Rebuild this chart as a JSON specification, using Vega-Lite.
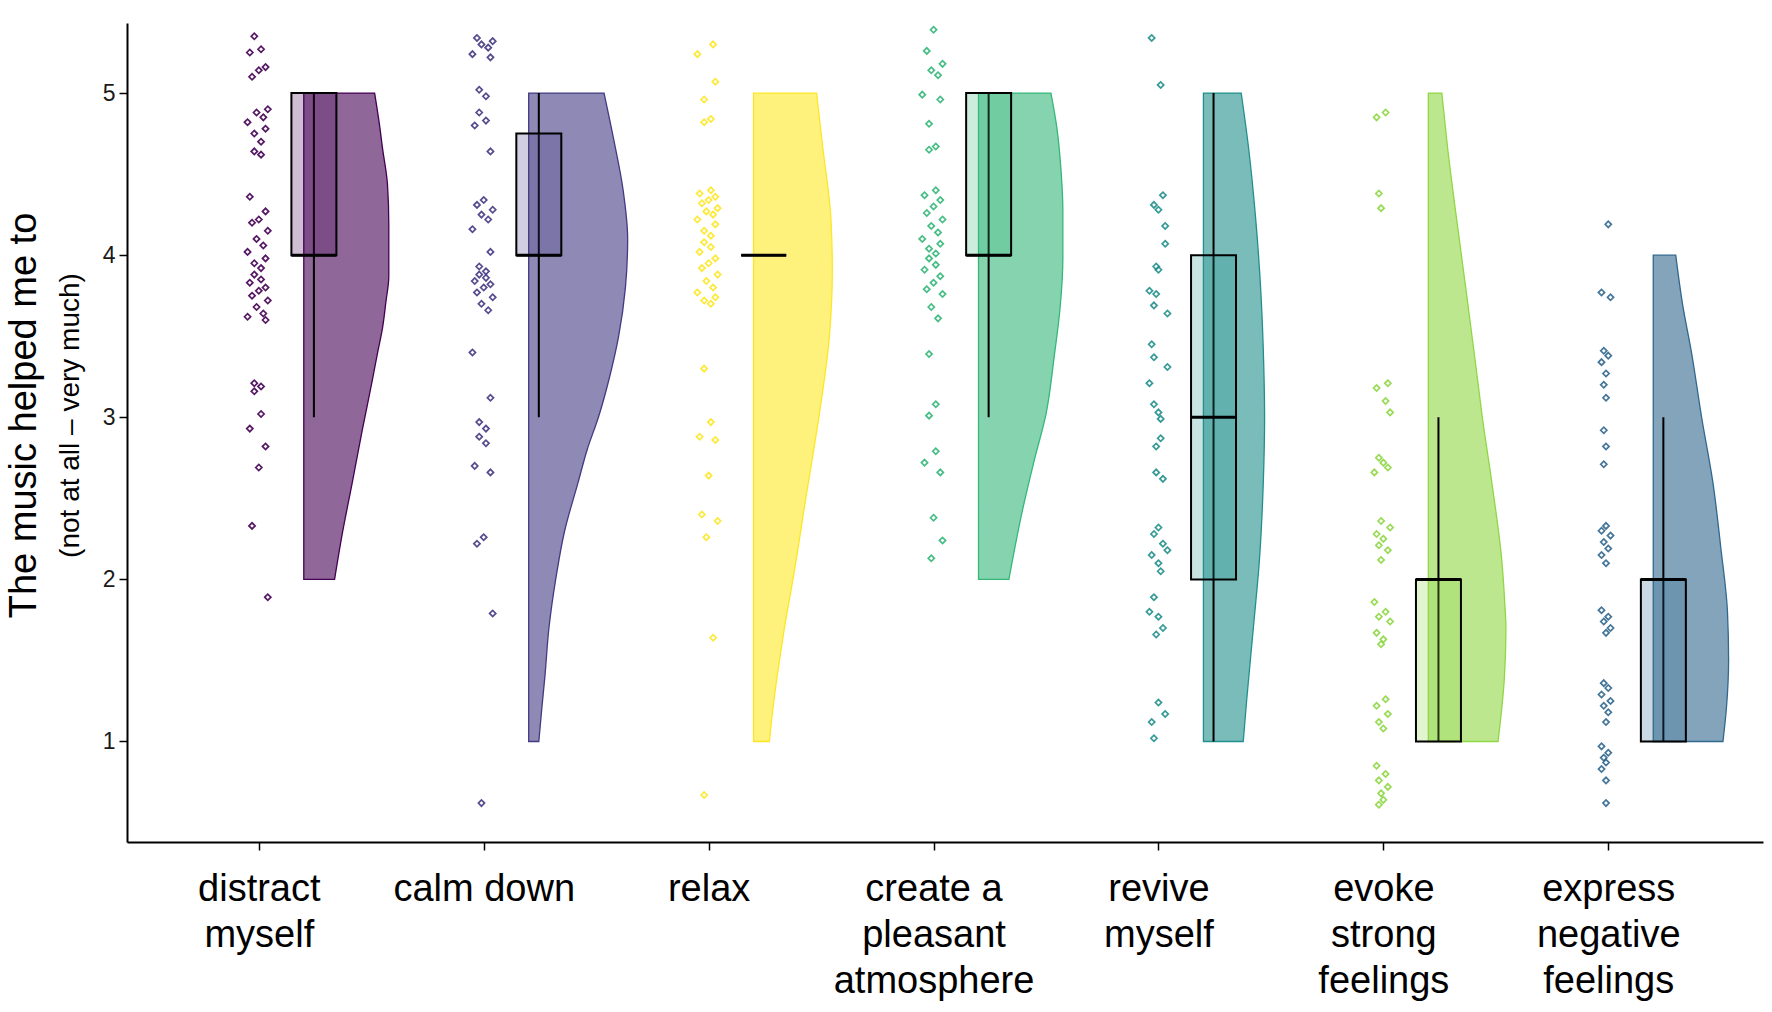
{
  "$schema": "https://vega.github.io/schema/vega-lite/v6.json",
  "width": 1636,
  "height": 819,
  "autosize": {"type": "none"},
  "padding": {"left": 127, "top": 23, "right": 9, "bottom": 170},
  "background": "white",
  "config": {"view": {"stroke": null}, "font": "Liberation Sans"},
  "title": {"text": "The music helped me to", "orient": "left", "anchor": "middle", "frame": "group", "fontSize": 38, "font": "Liberation Sans", "fontWeight": "normal", "color": "black", "offset": 12, "dx": 17},
  "datasets": {
    "violins": [
      {"task":"distract myself","y":2,"w":0.137},{"task":"distract myself","y":2.28,"w":0.171},{"task":"distract myself","y":2.6,"w":0.216},{"task":"distract myself","y":2.92,"w":0.26},{"task":"distract myself","y":3.23,"w":0.305},{"task":"distract myself","y":3.39,"w":0.327},{"task":"distract myself","y":3.55,"w":0.35},{"task":"distract myself","y":3.71,"w":0.365},{"task":"distract myself","y":3.87,"w":0.378},{"task":"distract myself","y":4.19,"w":0.378},{"task":"distract myself","y":4.44,"w":0.372},{"task":"distract myself","y":4.66,"w":0.35},{"task":"distract myself","y":4.82,"w":0.335},{"task":"distract myself","y":5,"w":0.315},
      {"task":"calm down","y":1,"w":0.045},{"task":"calm down","y":1.2,"w":0.058},{"task":"calm down","y":1.4,"w":0.072},{"task":"calm down","y":1.7,"w":0.09},{"task":"calm down","y":2.0,"w":0.12},{"task":"calm down","y":2.3,"w":0.16},{"task":"calm down","y":2.6,"w":0.22},{"task":"calm down","y":2.8,"w":0.26},{"task":"calm down","y":3.0,"w":0.31},{"task":"calm down","y":3.25,"w":0.36},{"task":"calm down","y":3.5,"w":0.40},{"task":"calm down","y":3.8,"w":0.43},{"task":"calm down","y":4.1,"w":0.44},{"task":"calm down","y":4.4,"w":0.42},{"task":"calm down","y":4.7,"w":0.38},{"task":"calm down","y":5,"w":0.335},
      {"task":"relax","y":1,"w":0.07},{"task":"relax","y":1.25,"w":0.09},{"task":"relax","y":1.5,"w":0.115},{"task":"relax","y":1.75,"w":0.143},{"task":"relax","y":2.0,"w":0.175},{"task":"relax","y":2.5,"w":0.232},{"task":"relax","y":3.0,"w":0.29},{"task":"relax","y":3.5,"w":0.337},{"task":"relax","y":3.9,"w":0.35},{"task":"relax","y":4.22,"w":0.344},{"task":"relax","y":4.67,"w":0.307},{"task":"relax","y":5,"w":0.28},
      {"task":"create a pleasant atmosphere","y":2,"w":0.135},{"task":"create a pleasant atmosphere","y":2.43,"w":0.196},{"task":"create a pleasant atmosphere","y":2.73,"w":0.247},{"task":"create a pleasant atmosphere","y":3.02,"w":0.30},{"task":"create a pleasant atmosphere","y":3.38,"w":0.337},{"task":"create a pleasant atmosphere","y":3.68,"w":0.363},{"task":"create a pleasant atmosphere","y":3.98,"w":0.375},{"task":"create a pleasant atmosphere","y":4.28,"w":0.375},{"task":"create a pleasant atmosphere","y":4.52,"w":0.367},{"task":"create a pleasant atmosphere","y":4.79,"w":0.348},{"task":"create a pleasant atmosphere","y":5,"w":0.322},
      {"task":"revive myself","y":1,"w":0.177},{"task":"revive myself","y":1.25,"w":0.192},{"task":"revive myself","y":1.7,"w":0.222},{"task":"revive myself","y":2.14,"w":0.25},{"task":"revive myself","y":2.59,"w":0.266},{"task":"revive myself","y":3.0,"w":0.272},{"task":"revive myself","y":3.33,"w":0.268},{"task":"revive myself","y":3.78,"w":0.255},{"task":"revive myself","y":4.23,"w":0.232},{"task":"revive myself","y":4.67,"w":0.2},{"task":"revive myself","y":5,"w":0.168},
      {"task":"evoke strong feelings","y":1,"w":0.31},{"task":"evoke strong feelings","y":1.39,"w":0.338},{"task":"evoke strong feelings","y":1.7,"w":0.345},{"task":"evoke strong feelings","y":1.85,"w":0.34},{"task":"evoke strong feelings","y":2.14,"w":0.325},{"task":"evoke strong feelings","y":2.59,"w":0.283},{"task":"evoke strong feelings","y":3.0,"w":0.24},{"task":"evoke strong feelings","y":3.33,"w":0.21},{"task":"evoke strong feelings","y":3.78,"w":0.168},{"task":"evoke strong feelings","y":4.23,"w":0.125},{"task":"evoke strong feelings","y":4.67,"w":0.085},{"task":"evoke strong feelings","y":5,"w":0.06},
      {"task":"express negative feelings","y":1,"w":0.31},{"task":"express negative feelings","y":1.2,"w":0.325},{"task":"express negative feelings","y":1.5,"w":0.335},{"task":"express negative feelings","y":1.8,"w":0.33},{"task":"express negative feelings","y":2.2,"w":0.30},{"task":"express negative feelings","y":2.6,"w":0.265},{"task":"express negative feelings","y":3.0,"w":0.215},{"task":"express negative feelings","y":3.4,"w":0.17},{"task":"express negative feelings","y":3.7,"w":0.13},{"task":"express negative feelings","y":4,"w":0.10}
    ],
    "boxes": [
      {"task":"distract myself","lower":3,"q1":4,"median":4,"q3":5,"upper":5},
      {"task":"calm down","lower":3,"q1":4,"median":4,"q3":4.75,"upper":5},
      {"task":"relax","lower":4,"q1":4,"median":4,"q3":4,"upper":4},
      {"task":"create a pleasant atmosphere","lower":3,"q1":4,"median":4,"q3":5,"upper":5},
      {"task":"revive myself","lower":1,"q1":2,"median":3,"q3":4,"upper":5},
      {"task":"evoke strong feelings","lower":1,"q1":1,"median":2,"q3":2,"upper":3},
      {"task":"express negative feelings","lower":1,"q1":1,"median":2,"q3":2,"upper":3}
    ],
    "points": [
      {"task":"distract myself","value":5.35,"jitter":-0.02},{"task":"distract myself","value":5.27,"jitter":0.01},{"task":"distract myself","value":5.25,"jitter":-0.04},{"task":"distract myself","value":5.16,"jitter":0.03},{"task":"distract myself","value":5.14,"jitter":0.0},{"task":"distract myself","value":5.10,"jitter":-0.03},{"task":"distract myself","value":4.90,"jitter":0.04},{"task":"distract myself","value":4.88,"jitter":-0.01},{"task":"distract myself","value":4.85,"jitter":0.02},{"task":"distract myself","value":4.82,"jitter":-0.05},{"task":"distract myself","value":4.78,"jitter":0.03},{"task":"distract myself","value":4.75,"jitter":-0.02},{"task":"distract myself","value":4.70,"jitter":0.01},{"task":"distract myself","value":4.64,"jitter":-0.02},{"task":"distract myself","value":4.62,"jitter":0.01},{"task":"distract myself","value":4.36,"jitter":-0.04},{"task":"distract myself","value":4.27,"jitter":0.03},{"task":"distract myself","value":4.22,"jitter":0.0},{"task":"distract myself","value":4.20,"jitter":-0.03},{"task":"distract myself","value":4.15,"jitter":0.04},{"task":"distract myself","value":4.10,"jitter":-0.01},{"task":"distract myself","value":4.06,"jitter":0.02},{"task":"distract myself","value":4.02,"jitter":-0.05},{"task":"distract myself","value":3.98,"jitter":0.03},{"task":"distract myself","value":3.95,"jitter":-0.02},{"task":"distract myself","value":3.92,"jitter":0.01},{"task":"distract myself","value":3.88,"jitter":-0.02},{"task":"distract myself","value":3.85,"jitter":0.01},{"task":"distract myself","value":3.83,"jitter":-0.04},{"task":"distract myself","value":3.80,"jitter":0.03},{"task":"distract myself","value":3.78,"jitter":0.0},{"task":"distract myself","value":3.75,"jitter":-0.03},{"task":"distract myself","value":3.72,"jitter":0.04},{"task":"distract myself","value":3.68,"jitter":-0.01},{"task":"distract myself","value":3.64,"jitter":0.02},{"task":"distract myself","value":3.62,"jitter":-0.05},{"task":"distract myself","value":3.60,"jitter":0.03},{"task":"distract myself","value":3.21,"jitter":-0.02},{"task":"distract myself","value":3.19,"jitter":0.01},{"task":"distract myself","value":3.16,"jitter":-0.02},{"task":"distract myself","value":3.02,"jitter":0.01},{"task":"distract myself","value":2.93,"jitter":-0.04},{"task":"distract myself","value":2.82,"jitter":0.03},{"task":"distract myself","value":2.69,"jitter":0.0},{"task":"distract myself","value":2.33,"jitter":-0.03},{"task":"distract myself","value":1.89,"jitter":0.04},
      {"task":"calm down","value":5.34,"jitter":-0.03},{"task":"calm down","value":5.32,"jitter":0.04},{"task":"calm down","value":5.30,"jitter":-0.01},{"task":"calm down","value":5.28,"jitter":0.02},{"task":"calm down","value":5.24,"jitter":-0.05},{"task":"calm down","value":5.22,"jitter":0.03},{"task":"calm down","value":5.02,"jitter":-0.02},{"task":"calm down","value":4.98,"jitter":0.01},{"task":"calm down","value":4.88,"jitter":-0.02},{"task":"calm down","value":4.83,"jitter":0.01},{"task":"calm down","value":4.80,"jitter":-0.04},{"task":"calm down","value":4.64,"jitter":0.03},{"task":"calm down","value":4.34,"jitter":0.0},{"task":"calm down","value":4.31,"jitter":-0.03},{"task":"calm down","value":4.28,"jitter":0.04},{"task":"calm down","value":4.25,"jitter":-0.01},{"task":"calm down","value":4.22,"jitter":0.02},{"task":"calm down","value":4.16,"jitter":-0.05},{"task":"calm down","value":4.02,"jitter":0.03},{"task":"calm down","value":3.93,"jitter":-0.02},{"task":"calm down","value":3.90,"jitter":0.01},{"task":"calm down","value":3.88,"jitter":-0.02},{"task":"calm down","value":3.86,"jitter":0.01},{"task":"calm down","value":3.84,"jitter":-0.04},{"task":"calm down","value":3.82,"jitter":0.03},{"task":"calm down","value":3.80,"jitter":0.0},{"task":"calm down","value":3.77,"jitter":-0.03},{"task":"calm down","value":3.74,"jitter":0.04},{"task":"calm down","value":3.70,"jitter":-0.01},{"task":"calm down","value":3.66,"jitter":0.02},{"task":"calm down","value":3.40,"jitter":-0.05},{"task":"calm down","value":3.12,"jitter":0.03},{"task":"calm down","value":2.97,"jitter":-0.02},{"task":"calm down","value":2.93,"jitter":0.01},{"task":"calm down","value":2.88,"jitter":-0.02},{"task":"calm down","value":2.84,"jitter":0.01},{"task":"calm down","value":2.70,"jitter":-0.04},{"task":"calm down","value":2.66,"jitter":0.03},{"task":"calm down","value":2.26,"jitter":0.0},{"task":"calm down","value":2.22,"jitter":-0.03},{"task":"calm down","value":1.79,"jitter":0.04},{"task":"calm down","value":0.62,"jitter":-0.01},
      {"task":"relax","value":5.30,"jitter":0.02},{"task":"relax","value":5.24,"jitter":-0.05},{"task":"relax","value":5.07,"jitter":0.03},{"task":"relax","value":4.96,"jitter":-0.02},{"task":"relax","value":4.84,"jitter":0.01},{"task":"relax","value":4.82,"jitter":-0.02},{"task":"relax","value":4.40,"jitter":0.01},{"task":"relax","value":4.38,"jitter":-0.04},{"task":"relax","value":4.36,"jitter":0.03},{"task":"relax","value":4.34,"jitter":0.0},{"task":"relax","value":4.32,"jitter":-0.03},{"task":"relax","value":4.29,"jitter":0.04},{"task":"relax","value":4.27,"jitter":-0.01},{"task":"relax","value":4.25,"jitter":0.02},{"task":"relax","value":4.22,"jitter":-0.05},{"task":"relax","value":4.19,"jitter":0.03},{"task":"relax","value":4.15,"jitter":-0.02},{"task":"relax","value":4.12,"jitter":0.01},{"task":"relax","value":4.08,"jitter":-0.02},{"task":"relax","value":4.05,"jitter":0.01},{"task":"relax","value":4.02,"jitter":-0.04},{"task":"relax","value":3.98,"jitter":0.03},{"task":"relax","value":3.95,"jitter":0.0},{"task":"relax","value":3.92,"jitter":-0.03},{"task":"relax","value":3.88,"jitter":0.04},{"task":"relax","value":3.84,"jitter":-0.01},{"task":"relax","value":3.80,"jitter":0.02},{"task":"relax","value":3.77,"jitter":-0.05},{"task":"relax","value":3.74,"jitter":0.03},{"task":"relax","value":3.72,"jitter":-0.02},{"task":"relax","value":3.70,"jitter":0.01},{"task":"relax","value":3.30,"jitter":-0.02},{"task":"relax","value":2.97,"jitter":0.01},{"task":"relax","value":2.88,"jitter":-0.04},{"task":"relax","value":2.86,"jitter":0.03},{"task":"relax","value":2.64,"jitter":0.0},{"task":"relax","value":2.40,"jitter":-0.03},{"task":"relax","value":2.36,"jitter":0.04},{"task":"relax","value":2.26,"jitter":-0.01},{"task":"relax","value":1.64,"jitter":0.02},{"task":"relax","value":0.67,"jitter":-0.02},
      {"task":"create a pleasant atmosphere","value":5.39,"jitter":0.0},{"task":"create a pleasant atmosphere","value":5.26,"jitter":-0.03},{"task":"create a pleasant atmosphere","value":5.18,"jitter":0.04},{"task":"create a pleasant atmosphere","value":5.14,"jitter":-0.01},{"task":"create a pleasant atmosphere","value":5.11,"jitter":0.02},{"task":"create a pleasant atmosphere","value":4.99,"jitter":-0.05},{"task":"create a pleasant atmosphere","value":4.96,"jitter":0.03},{"task":"create a pleasant atmosphere","value":4.81,"jitter":-0.02},{"task":"create a pleasant atmosphere","value":4.67,"jitter":0.01},{"task":"create a pleasant atmosphere","value":4.65,"jitter":-0.02},{"task":"create a pleasant atmosphere","value":4.40,"jitter":0.01},{"task":"create a pleasant atmosphere","value":4.37,"jitter":-0.04},{"task":"create a pleasant atmosphere","value":4.34,"jitter":0.03},{"task":"create a pleasant atmosphere","value":4.30,"jitter":0.0},{"task":"create a pleasant atmosphere","value":4.26,"jitter":-0.03},{"task":"create a pleasant atmosphere","value":4.22,"jitter":0.04},{"task":"create a pleasant atmosphere","value":4.18,"jitter":-0.01},{"task":"create a pleasant atmosphere","value":4.14,"jitter":0.02},{"task":"create a pleasant atmosphere","value":4.10,"jitter":-0.05},{"task":"create a pleasant atmosphere","value":4.07,"jitter":0.03},{"task":"create a pleasant atmosphere","value":4.04,"jitter":-0.02},{"task":"create a pleasant atmosphere","value":4.01,"jitter":0.01},{"task":"create a pleasant atmosphere","value":3.98,"jitter":-0.02},{"task":"create a pleasant atmosphere","value":3.94,"jitter":0.01},{"task":"create a pleasant atmosphere","value":3.91,"jitter":-0.04},{"task":"create a pleasant atmosphere","value":3.87,"jitter":0.03},{"task":"create a pleasant atmosphere","value":3.83,"jitter":0.0},{"task":"create a pleasant atmosphere","value":3.79,"jitter":-0.03},{"task":"create a pleasant atmosphere","value":3.76,"jitter":0.04},{"task":"create a pleasant atmosphere","value":3.68,"jitter":-0.01},{"task":"create a pleasant atmosphere","value":3.61,"jitter":0.02},{"task":"create a pleasant atmosphere","value":3.39,"jitter":-0.02},{"task":"create a pleasant atmosphere","value":3.08,"jitter":0.01},{"task":"create a pleasant atmosphere","value":3.01,"jitter":-0.02},{"task":"create a pleasant atmosphere","value":2.79,"jitter":0.01},{"task":"create a pleasant atmosphere","value":2.72,"jitter":-0.04},{"task":"create a pleasant atmosphere","value":2.66,"jitter":0.03},{"task":"create a pleasant atmosphere","value":2.38,"jitter":0.0},{"task":"create a pleasant atmosphere","value":2.24,"jitter":0.04},{"task":"create a pleasant atmosphere","value":2.13,"jitter":-0.01},
      {"task":"revive myself","value":5.34,"jitter":-0.03},{"task":"revive myself","value":5.05,"jitter":0.01},{"task":"revive myself","value":4.37,"jitter":0.02},{"task":"revive myself","value":4.31,"jitter":-0.02},{"task":"revive myself","value":4.28,"jitter":0.0},{"task":"revive myself","value":4.18,"jitter":0.03},{"task":"revive myself","value":4.07,"jitter":0.03},{"task":"revive myself","value":3.93,"jitter":-0.01},{"task":"revive myself","value":3.91,"jitter":0.0},{"task":"revive myself","value":3.78,"jitter":-0.04},{"task":"revive myself","value":3.76,"jitter":-0.01},{"task":"revive myself","value":3.69,"jitter":-0.02},{"task":"revive myself","value":3.64,"jitter":0.04},{"task":"revive myself","value":3.45,"jitter":-0.03},{"task":"revive myself","value":3.37,"jitter":-0.02},{"task":"revive myself","value":3.31,"jitter":0.04},{"task":"revive myself","value":3.21,"jitter":-0.04},{"task":"revive myself","value":3.08,"jitter":-0.02},{"task":"revive myself","value":3.03,"jitter":0.0},{"task":"revive myself","value":2.99,"jitter":0.01},{"task":"revive myself","value":2.87,"jitter":0.01},{"task":"revive myself","value":2.82,"jitter":-0.01},{"task":"revive myself","value":2.66,"jitter":-0.01},{"task":"revive myself","value":2.62,"jitter":0.02},{"task":"revive myself","value":2.32,"jitter":0.0},{"task":"revive myself","value":2.28,"jitter":-0.02},{"task":"revive myself","value":2.22,"jitter":0.02},{"task":"revive myself","value":2.18,"jitter":0.04},{"task":"revive myself","value":2.15,"jitter":-0.03},{"task":"revive myself","value":2.10,"jitter":0.0},{"task":"revive myself","value":2.05,"jitter":0.01},{"task":"revive myself","value":1.89,"jitter":-0.02},{"task":"revive myself","value":1.80,"jitter":-0.04},{"task":"revive myself","value":1.77,"jitter":0.0},{"task":"revive myself","value":1.70,"jitter":0.02},{"task":"revive myself","value":1.66,"jitter":-0.01},{"task":"revive myself","value":1.24,"jitter":0.0},{"task":"revive myself","value":1.17,"jitter":0.03},{"task":"revive myself","value":1.12,"jitter":-0.03},{"task":"revive myself","value":1.02,"jitter":-0.02},
      {"task":"evoke strong feelings","value":4.88,"jitter":0.01},{"task":"evoke strong feelings","value":4.85,"jitter":-0.03},{"task":"evoke strong feelings","value":4.38,"jitter":-0.02},{"task":"evoke strong feelings","value":4.29,"jitter":-0.01},{"task":"evoke strong feelings","value":3.21,"jitter":0.02},{"task":"evoke strong feelings","value":3.18,"jitter":-0.03},{"task":"evoke strong feelings","value":3.10,"jitter":0.01},{"task":"evoke strong feelings","value":3.03,"jitter":0.03},{"task":"evoke strong feelings","value":2.75,"jitter":-0.02},{"task":"evoke strong feelings","value":2.72,"jitter":0.0},{"task":"evoke strong feelings","value":2.69,"jitter":0.02},{"task":"evoke strong feelings","value":2.66,"jitter":-0.04},{"task":"evoke strong feelings","value":2.36,"jitter":-0.01},{"task":"evoke strong feelings","value":2.32,"jitter":0.03},{"task":"evoke strong feelings","value":2.28,"jitter":-0.03},{"task":"evoke strong feelings","value":2.25,"jitter":0.0},{"task":"evoke strong feelings","value":2.21,"jitter":-0.02},{"task":"evoke strong feelings","value":2.18,"jitter":0.02},{"task":"evoke strong feelings","value":2.12,"jitter":-0.01},{"task":"evoke strong feelings","value":1.86,"jitter":-0.04},{"task":"evoke strong feelings","value":1.80,"jitter":0.01},{"task":"evoke strong feelings","value":1.77,"jitter":-0.02},{"task":"evoke strong feelings","value":1.74,"jitter":0.03},{"task":"evoke strong feelings","value":1.67,"jitter":-0.03},{"task":"evoke strong feelings","value":1.63,"jitter":0.0},{"task":"evoke strong feelings","value":1.60,"jitter":-0.01},{"task":"evoke strong feelings","value":1.26,"jitter":0.01},{"task":"evoke strong feelings","value":1.22,"jitter":-0.03},{"task":"evoke strong feelings","value":1.17,"jitter":0.02},{"task":"evoke strong feelings","value":1.12,"jitter":-0.02},{"task":"evoke strong feelings","value":1.08,"jitter":0.0},{"task":"evoke strong feelings","value":0.85,"jitter":-0.03},{"task":"evoke strong feelings","value":0.80,"jitter":0.01},{"task":"evoke strong feelings","value":0.76,"jitter":-0.02},{"task":"evoke strong feelings","value":0.72,"jitter":0.02},{"task":"evoke strong feelings","value":0.68,"jitter":-0.01},{"task":"evoke strong feelings","value":0.64,"jitter":0.0},{"task":"evoke strong feelings","value":0.61,"jitter":-0.02},
      {"task":"express negative feelings","value":4.19,"jitter":0.0},{"task":"express negative feelings","value":3.77,"jitter":-0.03},{"task":"express negative feelings","value":3.74,"jitter":0.01},{"task":"express negative feelings","value":3.41,"jitter":-0.02},{"task":"express negative feelings","value":3.38,"jitter":0.0},{"task":"express negative feelings","value":3.34,"jitter":-0.03},{"task":"express negative feelings","value":3.27,"jitter":-0.01},{"task":"express negative feelings","value":3.20,"jitter":-0.02},{"task":"express negative feelings","value":3.12,"jitter":-0.01},{"task":"express negative feelings","value":2.92,"jitter":-0.02},{"task":"express negative feelings","value":2.82,"jitter":-0.01},{"task":"express negative feelings","value":2.71,"jitter":-0.02},{"task":"express negative feelings","value":2.33,"jitter":-0.01},{"task":"express negative feelings","value":2.30,"jitter":-0.03},{"task":"express negative feelings","value":2.27,"jitter":0.01},{"task":"express negative feelings","value":2.23,"jitter":-0.02},{"task":"express negative feelings","value":2.19,"jitter":0.0},{"task":"express negative feelings","value":2.15,"jitter":-0.03},{"task":"express negative feelings","value":2.10,"jitter":-0.01},{"task":"express negative feelings","value":1.81,"jitter":-0.03},{"task":"express negative feelings","value":1.77,"jitter":0.0},{"task":"express negative feelings","value":1.74,"jitter":-0.02},{"task":"express negative feelings","value":1.70,"jitter":0.01},{"task":"express negative feelings","value":1.67,"jitter":-0.01},{"task":"express negative feelings","value":1.36,"jitter":-0.02},{"task":"express negative feelings","value":1.33,"jitter":0.0},{"task":"express negative feelings","value":1.29,"jitter":-0.03},{"task":"express negative feelings","value":1.25,"jitter":0.01},{"task":"express negative feelings","value":1.22,"jitter":-0.02},{"task":"express negative feelings","value":1.18,"jitter":0.0},{"task":"express negative feelings","value":1.12,"jitter":-0.01},{"task":"express negative feelings","value":0.97,"jitter":-0.03},{"task":"express negative feelings","value":0.93,"jitter":0.0},{"task":"express negative feelings","value":0.90,"jitter":-0.02},{"task":"express negative feelings","value":0.87,"jitter":-0.01},{"task":"express negative feelings","value":0.83,"jitter":-0.03},{"task":"express negative feelings","value":0.76,"jitter":-0.01},{"task":"express negative feelings","value":0.62,"jitter":-0.01}
    ]
  },
  "layer": [
    {
      "data": {"name": "violins"},
      "transform": [
        {"calculate": "indexof(['distract myself','calm down','relax','create a pleasant atmosphere','revive myself','evoke strong feelings','express negative feelings'], datum.task) + 1", "as": "pos"},
        {"calculate": "datum.pos + 0.2", "as": "vx0"},
        {"calculate": "datum.pos + 0.2 + datum.w", "as": "vx1"}
      ],
      "mark": {"type": "area", "orient": "horizontal", "interpolate": "monotone", "fillOpacity": 0.6, "strokeWidth": 1.3},
      "encoding": {
        "y": {"field": "y", "type": "quantitative",
              "scale": {"domain": [0.38, 5.432], "nice": false, "zero": false},
              "axis": {"orient": "left", "values": [1,2,3,4,5], "format": "d", "title": "(not at all – very much)", "titleFont": "Liberation Sans", "titleFontSize": 28, "titleFontWeight": "normal", "titleColor": "black", "titlePadding": 18, "titleY": 392,
                       "labelFont": "Liberation Sans", "labelFontSize": 23, "labelColor": "#1a1a1a", "labelPadding": 4,
                       "tickSize": 8, "tickWidth": 1.5, "tickColor": "black", "domainColor": "black", "domainWidth": 2, "grid": false}},
        "x": {"field": "vx1", "type": "quantitative", "stack": null,
              "scale": {"domain": [0.414, 7.688], "nice": false, "zero": false},
              "axis": {"orient": "bottom", "values": [1,2,3,4,5,6,7], "title": null, "grid": false,
                       "labelExpr": "datum.value == 1 ? ['distract','myself'] : datum.value == 2 ? 'calm down' : datum.value == 3 ? 'relax' : datum.value == 4 ? ['create a','pleasant','atmosphere'] : datum.value == 5 ? ['revive','myself'] : datum.value == 6 ? ['evoke','strong','feelings'] : ['express','negative','feelings']",
                       "labelFont": "Liberation Sans", "labelFontSize": 38, "labelColor": "black", "labelLineHeight": 46, "labelPadding": 20, "labelLimit": 0,
                       "labelOverlap": false, "labelFlush": false, "labelBound": false,
                       "tickSize": 8, "tickWidth": 1.5, "tickColor": "black", "domainColor": "black", "domainWidth": 2}},
        "x2": {"field": "vx0"},
        "color": {"field": "task", "type": "nominal", "legend": null,
                  "scale": {"domain": ["distract myself","calm down","relax","create a pleasant atmosphere","revive myself","evoke strong feelings","express negative feelings"],
                            "range": ["#440154","#443A83","#FDE725","#35B779","#21908C","#8FD744","#31688E"]}},
        "stroke": {"field": "task", "type": "nominal", "legend": null,
                  "scale": {"domain": ["distract myself","calm down","relax","create a pleasant atmosphere","revive myself","evoke strong feelings","express negative feelings"],
                            "range": ["#440154","#443A83","#FDE725","#35B779","#21908C","#8FD744","#31688E"]}}
      }
    },
    {
      "data": {"name": "boxes"},
      "transform": [
        {"calculate": "indexof(['distract myself','calm down','relax','create a pleasant atmosphere','revive myself','evoke strong feelings','express negative feelings'], datum.task) + 1", "as": "pos"},
        {"calculate": "datum.pos + 0.145", "as": "bx0"},
        {"calculate": "datum.pos + 0.345", "as": "bx1"},
        {"calculate": "datum.pos + 0.245", "as": "bxc"}
      ],
      "layer": [
        {
          "mark": {"type": "rule", "color": "black", "strokeWidth": 2},
          "encoding": {
            "x": {"field": "bxc", "type": "quantitative"},
            "y": {"field": "lower", "type": "quantitative"},
            "y2": {"field": "upper"}
          }
        },
        {
          "mark": {"type": "rect", "fillOpacity": 0.25, "stroke": "black", "strokeWidth": 2},
          "encoding": {
            "x": {"field": "bx0", "type": "quantitative"},
            "x2": {"field": "bx1"},
            "y": {"field": "q1", "type": "quantitative"},
            "y2": {"field": "q3"},
            "color": {"field": "task", "type": "nominal", "legend": null}
          }
        },
        {
          "mark": {"type": "rule", "color": "black", "strokeWidth": 3},
          "encoding": {
            "x": {"field": "bx0", "type": "quantitative"},
            "x2": {"field": "bx1"},
            "y": {"field": "median", "type": "quantitative"}
          }
        }
      ]
    },
    {
      "data": {"name": "points"},
      "transform": [
        {"calculate": "indexof(['distract myself','calm down','relax','create a pleasant atmosphere','revive myself','evoke strong feelings','express negative feelings'], datum.task) + 1 + datum.jitter", "as": "px"}
      ],
      "mark": {"type": "point", "shape": "diamond", "filled": false, "size": 38, "strokeWidth": 1.7, "opacity": 0.9},
      "encoding": {
        "x": {"field": "px", "type": "quantitative"},
        "y": {"field": "value", "type": "quantitative"},
        "color": {"field": "task", "type": "nominal", "legend": null}
      }
    }
  ]
}
